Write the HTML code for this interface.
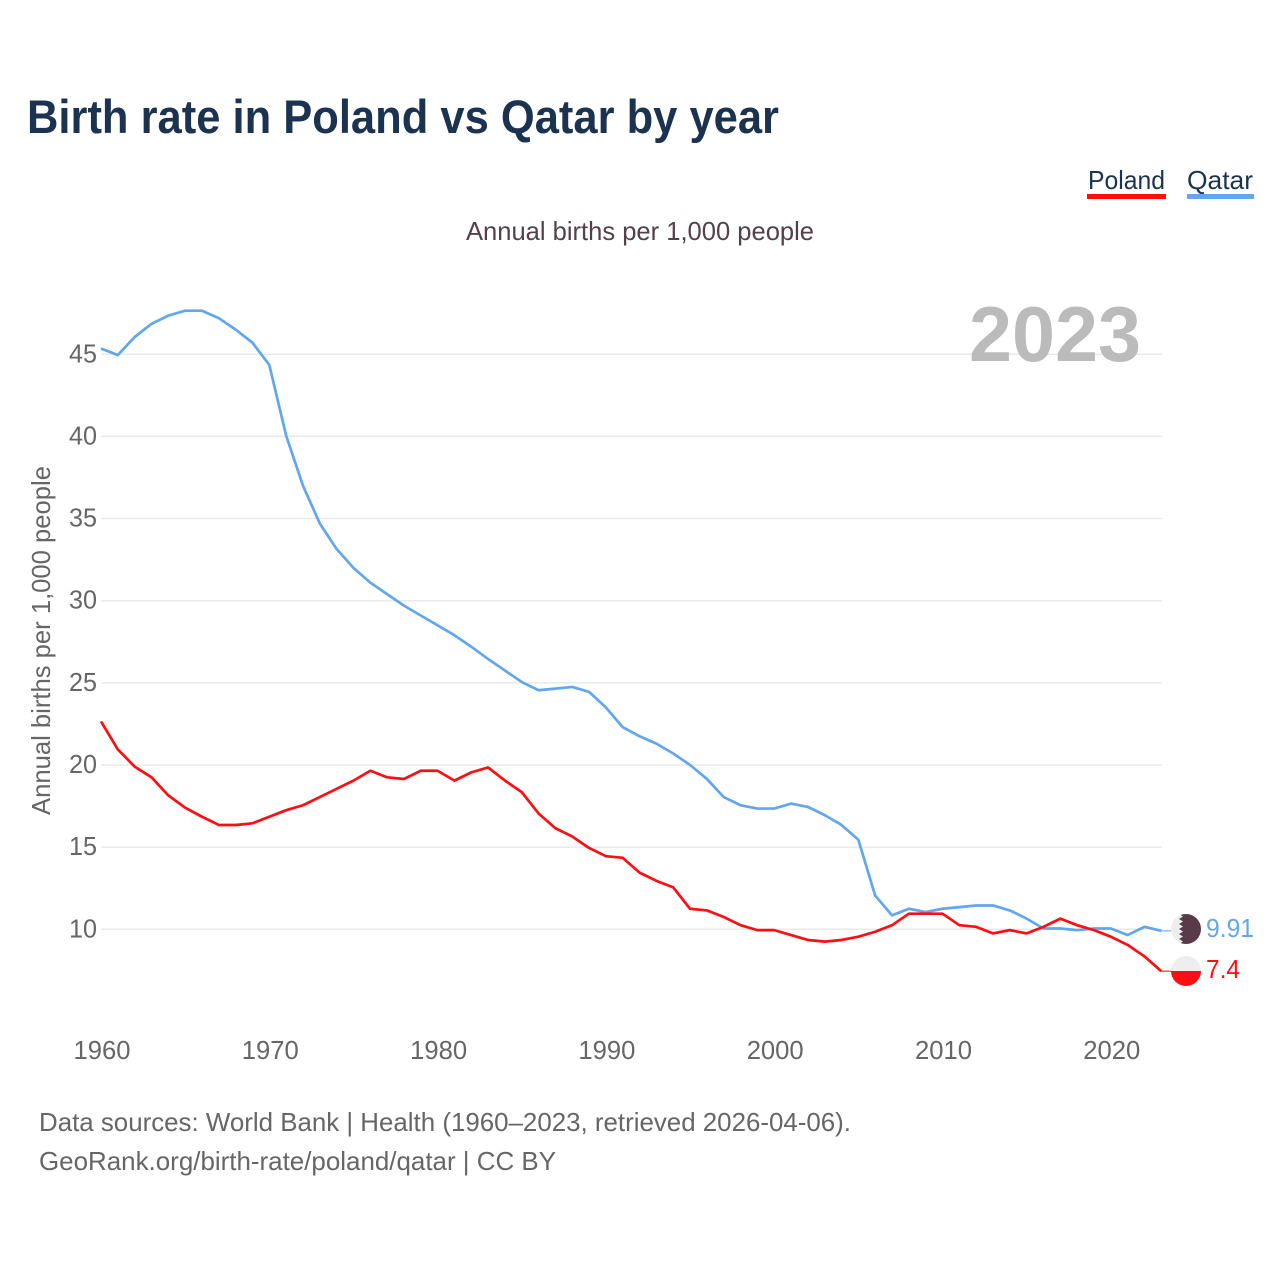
<!DOCTYPE html>
<html lang="en">
<head>
<meta charset="utf-8">
<title>Birth rate in Poland vs Qatar by year</title>
<style>
html,body{margin:0;padding:0;background:#fff;width:1280px;height:1280px;overflow:hidden}
svg{display:block}
text{font-family:"Liberation Sans",sans-serif}
</style>
</head>
<body>
<svg id="chart" width="1280" height="1280" viewBox="0 0 1280 1280" xmlns="http://www.w3.org/2000/svg">
<text x="27" y="133" font-size="47" font-weight="700" fill="#1b3350" textLength="752" lengthAdjust="spacingAndGlyphs">Birth rate in Poland vs Qatar by year</text>
<text x="1088" y="189" font-size="26" fill="#1b3350" textLength="77" lengthAdjust="spacingAndGlyphs">Poland</text>
<rect x="1087" y="194" width="79" height="5" fill="#ff0d13"/>
<text x="1187" y="189" font-size="26" fill="#1b3350" textLength="66" lengthAdjust="spacingAndGlyphs">Qatar</text>
<rect x="1187" y="194" width="67" height="5" fill="#62a6ee"/>
<text x="466" y="240" font-size="26" fill="#54404a" textLength="348" lengthAdjust="spacingAndGlyphs">Annual births per 1,000 people</text>
<text transform="translate(50,815) rotate(-90)" font-size="26" fill="#666" textLength="349" lengthAdjust="spacingAndGlyphs">Annual births per 1,000 people</text>
<g id="grid"></g>
<g id="yticks"></g>
<g id="xticks"></g>
<text x="969" y="361" font-size="78" font-weight="700" fill="#bbbbbb" textLength="172" lengthAdjust="spacingAndGlyphs">2023</text>
<g id="series"></g>
<defs>
<clipPath id="qatar-clip"><circle cx="1186" cy="929" r="15"/></clipPath>
<clipPath id="poland-clip"><circle cx="1186" cy="971" r="15"/></clipPath>
</defs>
<g id="flag-qatar" clip-path="url(#qatar-clip)">
<rect x="1171" y="914" width="30" height="30" fill="#eeeeee"/>
<polygon fill="#583a48" points="1201,914 1179,914 1183,916.5 1179,919 1183,921.5 1179,924 1183,926.5 1179,929 1183,931.5 1179,934 1183,936.5 1179,939 1183,941.5 1179,944 1201,944"/>
</g>
<g id="flag-poland" clip-path="url(#poland-clip)">
<rect x="1171" y="956" width="30" height="15" fill="#eeeeee"/>
<rect x="1171" y="971" width="30" height="15" fill="#ff0d13"/>
</g>
<text x="1206" y="937" font-size="26" fill="#62a6ee" textLength="48" lengthAdjust="spacingAndGlyphs">9.91</text>
<text x="1206" y="978" font-size="26" fill="#ff0d13" textLength="34" lengthAdjust="spacingAndGlyphs">7.4</text>
<text x="39" y="1131" font-size="26" fill="#666" textLength="812" lengthAdjust="spacingAndGlyphs">Data sources: World Bank | Health (1960–2023, retrieved 2026-04-06).</text>
<text x="39" y="1170" font-size="26" fill="#666" textLength="517" lengthAdjust="spacingAndGlyphs">GeoRank.org/birth-rate/poland/qatar | CC BY</text>
</svg>
<script>
var startYear = 1960;
var polandValues = [22.65,20.95,19.9,19.25,18.15,17.4,16.85,16.35,16.35,16.45,16.85,17.25,17.55,18.05,18.55,19.05,19.65,19.25,19.15,19.65,19.65,19.05,19.55,19.85,19.05,18.35,17.05,16.15,15.65,14.95,14.45,14.35,13.45,12.95,12.55,11.25,11.15,10.75,10.25,9.95,9.95,9.65,9.35,9.25,9.35,9.55,9.85,10.25,10.95,10.95,10.95,10.25,10.15,9.75,9.95,9.75,10.15,10.65,10.25,9.95,9.55,9.05,8.35,7.45];
var qatarValues = [45.35,44.95,46.05,46.85,47.35,47.65,47.65,47.2,46.5,45.7,44.35,40.05,37.0,34.7,33.15,32.0,31.1,30.4,29.7,29.1,28.5,27.9,27.2,26.45,25.75,25.05,24.55,24.65,24.75,24.45,23.5,22.3,21.75,21.3,20.7,20.0,19.15,18.05,17.55,17.35,17.35,17.65,17.45,16.95,16.35,15.45,12.05,10.85,11.25,11.05,11.25,11.35,11.45,11.45,11.15,10.65,10.05,10.05,9.95,10.05,10.05,9.65,10.15,9.91];
var yTickValues = [10,15,20,25,30,35,40,45];
var xTickValues = [1960,1970,1980,1990,2000,2010,2020];

var NS = 'http://www.w3.org/2000/svg';
function xScale(year){ return 101 + (year - 1960) * 16.83; }
function yScale(v){ return 929.3 - (v - 10) * 16.43; }
function make(tag, attrs, parent){
  var el = document.createElementNS(NS, tag);
  for (var k in attrs) el.setAttribute(k, attrs[k]);
  parent.appendChild(el);
  return el;
}
var grid = document.getElementById('grid');
var yticks = document.getElementById('yticks');
var xticks = document.getElementById('xticks');
var series = document.getElementById('series');

yTickValues.forEach(function(v){
  var line = make('line', {x1:101, x2:1162, y1:yScale(v), y2:yScale(v), stroke:'#e9e9e9', 'stroke-width':1.5}, grid);
  
  
  var t = make('text', {x:97, y:yScale(v)+8, 'text-anchor':'end', 'font-size':26, fill:'#666', textLength:28, lengthAdjust:'spacingAndGlyphs'}, yticks);
  
  
  t.textContent = v;
});
xTickValues.forEach(function(y){
  var t = make('text', {x:xScale(y)+1, y:1059, 'text-anchor':'middle', 'font-size':26, fill:'#666', textLength:57, lengthAdjust:'spacingAndGlyphs'}, xticks);
  
  
  t.textContent = y;
});
function drawSeries(values, color, name){
  var pts = values.map(function(v, i){ return xScale(startYear + i).toFixed(2) + ',' + yScale(v).toFixed(2); });
  var lastY = yScale(values[values.length - 1]);
  var lastX = xScale(startYear + values.length - 1);
  var conn = make('line', {x1:lastX, x2:1172, y1:lastY, y2:lastY, stroke:color, 'stroke-width':1.5, opacity:0.7}, series);
  
  
  var line = make('polyline', {points:pts.join(' '), fill:'none', stroke:color, 'stroke-width':2.7, 'stroke-linejoin':'round'}, series);
  
  
}
drawSeries(qatarValues, '#62a6ee', 'qatar');
drawSeries(polandValues, '#ff0d13', 'poland');
</script>
</body>
</html>
